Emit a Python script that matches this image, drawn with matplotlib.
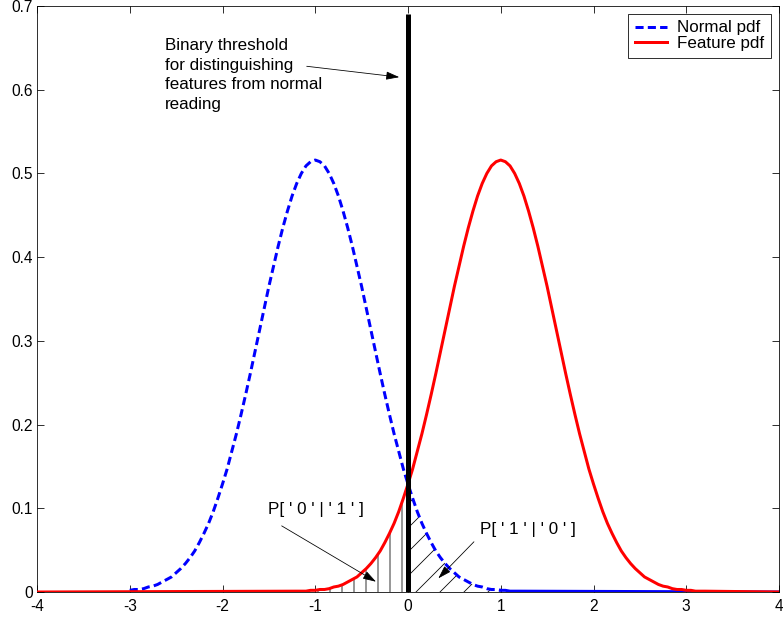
import numpy as np
import matplotlib.pyplot as plt

plt.rcParams['font.family'] = ['Liberation Sans', 'DejaVu Sans']
plt.rcParams['hatch.linewidth'] = 0.8
plt.rcParams['axes.unicode_minus'] = False

# values, x step 0.05 across each bump
normal_x = np.append(np.round(np.arange(-3.0, 1.2001, 0.05), 2), 4.0)
normal_pdf = [0.002, 0.003, 0.003, 0.004, 0.006, 0.007, 0.009, 0.012, 0.015,
              0.018, 0.023, 0.028, 0.034, 0.041, 0.049, 0.059, 0.070, 0.082, 0.096,
              0.112, 0.129, 0.147, 0.168, 0.189, 0.212, 0.236, 0.261, 0.287, 0.313,
              0.339, 0.365, 0.389, 0.413, 0.435, 0.455, 0.473, 0.488, 0.500, 0.509,
              0.514, 0.516, 0.514,
              0.509, 0.500, 0.488, 0.473, 0.455, 0.435, 0.413, 0.389, 0.365, 0.339,
              0.313, 0.287, 0.261, 0.236, 0.212, 0.189, 0.168, 0.147, 0.129, 0.112,
              0.096, 0.082, 0.070, 0.059, 0.049, 0.041, 0.034, 0.028, 0.023, 0.018,
              0.015, 0.012, 0.009, 0.007, 0.006, 0.004, 0.003, 0.003, 0.002,
              0.002, 0.001, 0.001, 0.001, 0.0]

feature_x = np.concatenate([[-4.0], np.round(np.arange(-1.2, 3.2001, 0.05), 2), [4.0]])
feature_pdf = [0.0, 0.001, 0.001, 0.001, 0.002,
               0.002, 0.003, 0.003, 0.004, 0.006, 0.007, 0.009, 0.012, 0.015,
               0.018, 0.023, 0.028, 0.034, 0.041, 0.049, 0.059, 0.070, 0.082, 0.096,
               0.112, 0.129, 0.147, 0.168, 0.189, 0.212, 0.236, 0.261, 0.287, 0.313,
               0.339, 0.365, 0.389, 0.413, 0.435, 0.455, 0.473, 0.488, 0.500, 0.509,
               0.514, 0.516, 0.514,
               0.509, 0.500, 0.488, 0.473, 0.455, 0.435, 0.413, 0.389, 0.365, 0.339,
               0.313, 0.287, 0.261, 0.236, 0.212, 0.189, 0.168, 0.147, 0.129, 0.112,
               0.096, 0.082, 0.070, 0.059, 0.049, 0.041, 0.034, 0.028, 0.023, 0.018,
               0.015, 0.012, 0.009, 0.007, 0.006, 0.004, 0.003, 0.003, 0.002,
               0.002, 0.001, 0.001, 0.001, 0.0]

threshold = 0.0
threshold_top = 0.69

normal_pdf = np.array(normal_pdf)
feature_pdf = np.array(feature_pdf)

fig = plt.figure(figsize=(783 / 72, 622 / 72), dpi=72)
ax = fig.add_axes([37 / 783, 30 / 622, 742 / 783, 586 / 622])

# hatched error regions
m1 = (feature_x >= -1) & (feature_x <= threshold)
ax.fill_between(feature_x[m1], 0, feature_pdf[m1], facecolor='none',
                edgecolor='k', hatch='|', linewidth=0, zorder=1)
m2 = (normal_x >= threshold) & (normal_x <= 1.2)
ax.fill_between(normal_x[m2], 0, normal_pdf[m2], facecolor='none',
                edgecolor='k', hatch='/', linewidth=0, zorder=1)

# curves
dashed = normal_x <= 1.0
ax.plot(normal_x[dashed], normal_pdf[dashed], color='b', lw=3,
        dashes=(2.7, 1.4), label='Normal pdf', zorder=2)
ax.plot(normal_x[normal_x >= 1.0], normal_pdf[normal_x >= 1.0], color='b',
        lw=3, zorder=2)
ax.plot(feature_x, feature_pdf, color='r', lw=3, label='Feature pdf', zorder=3)

ax.plot([threshold, threshold], [0, threshold_top], color='k', lw=5,
        solid_capstyle='butt', zorder=4)

arrow = dict(arrowstyle='-|>,head_length=0.8,head_width=0.25', color='k',
             lw=0.8, shrinkA=0, shrinkB=0, mutation_scale=14)
ax.annotate('', xy=(-0.094, 0.615), xytext=(-1.092, 0.628), arrowprops=arrow)
ax.text(-2.62, 0.662, 'Binary threshold\nfor distinguishing\nfeatures from normal\nreading',
        fontsize=17, va='top', ha='left', linespacing=1.4)

ax.annotate('', xy=(-0.345, 0.0123), xytext=(-1.362, 0.079), arrowprops=arrow)
ax.text(-1.51, 0.098, "P[ ' 0 ' | ' 1 ' ]", fontsize=17, va='center', ha='left')

ax.annotate('', xy=(0.327, 0.0163), xytext=(0.711, 0.060), arrowprops=arrow)
ax.text(0.776, 0.075, "P[ ' 1 ' | ' 0 ' ]", fontsize=17, va='center', ha='left')

ax.set_xlim(-4, 4)
ax.set_ylim(0, 0.7)
ax.set_xticks(np.arange(-4, 5, 1))
ax.set_yticks(np.round(np.arange(0, 0.71, 0.1), 1))
ax.set_yticklabels(['0', '0.1', '0.2', '0.3', '0.4', '0.5', '0.6', '0.7'])
ax.tick_params(direction='in', length=7, width=0.8, top=True, right=True,
               labelsize=15.5)
ax.tick_params(axis='y', pad=4)
ax.tick_params(axis='x', pad=7)
for s in ax.spines.values():
    s.set_linewidth(0.8)

leg = ax.legend(loc='upper right', fontsize=17, handlelength=1.9,
                fancybox=False, framealpha=1, edgecolor='k',
                borderaxespad=0.45, handletextpad=0.6, labelspacing=0.05,
                borderpad=0.4)
leg.get_frame().set_linewidth(0.8)

fig.savefig('out.png', dpi=72)
